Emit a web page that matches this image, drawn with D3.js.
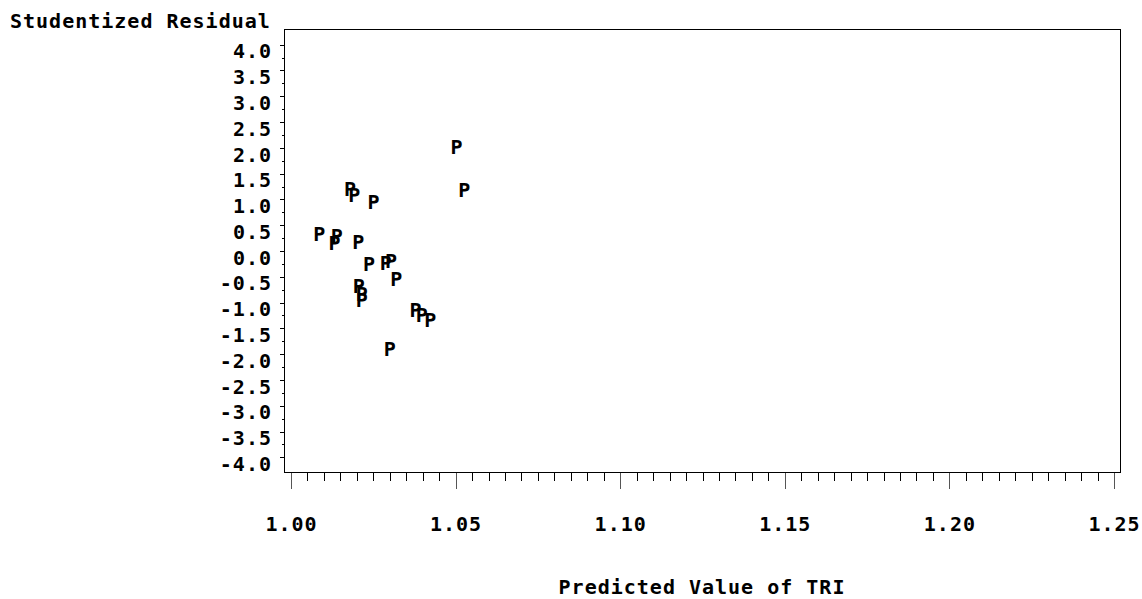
<!DOCTYPE html>
<html>
<head>
<meta charset="utf-8">
<script src="https://cdn.jsdelivr.net/npm/d3@7"></script>
<style>
  body { margin: 0; background: #fff; }
  text { font-family: "DejaVu Sans Mono", monospace; font-weight: bold; font-size: 20px; letter-spacing: 1px; fill: #000; }
</style>
</head>
<body>
<svg width="1142" height="599"></svg>
<script>
// predicted value of TRI and studentized residual
let predicted = [1.0503, 1.0526, 1.0179, 1.0192, 1.0251, 1.0086, 1.0139, 1.0132, 1.0204, 1.0237,
                 1.0288, 1.0304, 1.0320, 1.0206, 1.0215, 1.0215, 1.0378, 1.0397, 1.0423, 1.0300];
let residual = [2.17, 1.33, 1.35, 1.23, 1.10, 0.49, 0.45, 0.30, 0.33, -0.10,
                -0.08, -0.04, -0.40, -0.53, -0.69, -0.80, -1.00, -1.08, -1.19, -1.74];

let yTicks = [4.0, 3.5, 3.0, 2.5, 2.0, 1.5, 1.0, 0.5, 0.0, -0.5, -1.0, -1.5, -2.0, -2.5, -3.0, -3.5, -4.0];
let xTicks = [1.00, 1.05, 1.10, 1.15, 1.20, 1.25];

let yTitle = "Studentized Residual";
let xTitle = "Predicted Value of TRI";

let svg = d3.select("svg");

var frame = {l: 284.5, r: 1120.5, t: 29.5, b: 472.5};

var x = d3.scaleLinear()
  .domain([1.0, 1.25])
  .range([291, 1114]);

var y = d3.scaleLinear()
  .domain([-4, 4])
  .range([457.3, 44.7]);

// frame
svg.append("rect")
  .attr("x", frame.l)
  .attr("y", frame.t)
  .attr("width", frame.r - frame.l)
  .attr("height", frame.b - frame.t)
  .attr("fill", "none")
  .attr("stroke", "#000")
  .attr("stroke-width", 1)
  .attr("shape-rendering", "crispEdges");

// y axis ticks (major each 0.5, minor between)
let yMinor = d3.range(-3.75, 4, 0.5);
let yAxisG = svg.append("g").attr("shape-rendering", "crispEdges");
yAxisG.selectAll(".ymaj")
  .data(yTicks)
  .join("line")
    .attr("x1", frame.l - 5)
    .attr("x2", frame.l)
    .attr("y1", d => Math.round(y(d)) + 0.5)
    .attr("y2", d => Math.round(y(d)) + 0.5)
    .attr("stroke", "#000");
yAxisG.selectAll(".ymin")
  .data(yMinor)
  .join("line")
    .attr("x1", frame.l - 3)
    .attr("x2", frame.l)
    .attr("y1", d => Math.round(y(d)) + 0.5)
    .attr("y2", d => Math.round(y(d)) + 0.5)
    .attr("stroke", "#000");

svg.selectAll(".ylab")
  .data(yTicks)
  .join("text")
    .attr("x", 272)
    .attr("y", d => y(d) + 13.7)
    .attr("text-anchor", "end")
    .text(d => d3.format(".1f")(d).replace("−", "-"));

// x axis ticks (major each 0.05, minor each 0.005)
let xMinor = d3.range(0, 51).map(i => 1 + i * 0.005).filter((d, i) => i % 10 != 0);
let xAxisG = svg.append("g").attr("shape-rendering", "crispEdges");
xAxisG.selectAll(".xmaj")
  .data(xTicks)
  .join("line")
    .attr("x1", d => Math.round(x(d)) + 0.5)
    .attr("x2", d => Math.round(x(d)) + 0.5)
    .attr("y1", frame.b)
    .attr("y2", frame.b + 16)
    .attr("stroke", "#555");
xAxisG.selectAll(".xmin")
  .data(xMinor)
  .join("line")
    .attr("x1", d => Math.round(x(d)) + 0.5)
    .attr("x2", d => Math.round(x(d)) + 0.5)
    .attr("y1", frame.b)
    .attr("y2", frame.b + 8)
    .attr("stroke", "#000");

svg.selectAll(".xlab")
  .data(xTicks)
  .join("text")
    .attr("x", d => x(d) + 0.5)
    .attr("y", 531)
    .attr("text-anchor", "middle")
    .text(d => d3.format(".2f")(d));

// titles
svg.append("text")
  .attr("x", 10)
  .attr("y", 27.5)
  .text(yTitle);

svg.append("text")
  .attr("x", 702)
  .attr("y", 594)
  .attr("text-anchor", "middle")
  .text(xTitle);

// plot symbols 'P'
svg.selectAll(".pt")
  .data(predicted)
  .join("text")
    .attr("x", (d, i) => x(d))
    .attr("y", (d, i) => y(residual[i]) + 14.8)
    .attr("text-anchor", "middle")
    .style("letter-spacing", "0px")
    .text("P");
</script>
</body>
</html>
